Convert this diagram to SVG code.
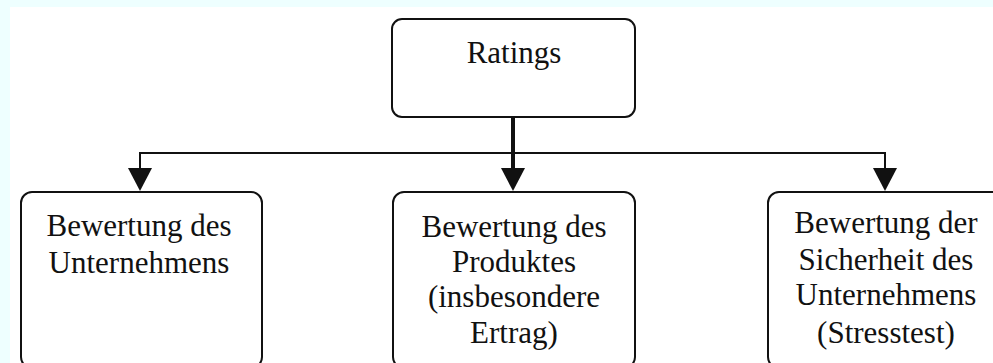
<svg xmlns="http://www.w3.org/2000/svg" width="993" height="363" viewBox="0 0 993 363">
  <style>
    .box { fill: #ffffff; stroke: #111111; stroke-width: 2; }
    .label { font-family: "Liberation Serif", "Times New Roman", serif; font-size: 31px; fill: #111111; text-anchor: middle; }
    .wire { fill: none; stroke: #111111; stroke-width: 2; }
    .trunk { fill: none; stroke: #111111; stroke-width: 4; }
    .head { fill: #111111; }
  </style>
  <defs>
    <path id="arrowhead" class="head" d="M -12 168 L 12 168 L 0 191 Z"/>
  </defs>

  <!-- page background with pale cyan margins -->
  <rect x="0" y="0" width="993" height="363" fill="#ffffff"/>
  <rect x="0" y="0" width="993" height="7" fill="#eeffff"/>
  <rect x="0" y="0" width="10" height="363" fill="#eeffff"/>

  <g id="connectors">
    <path class="trunk" d="M 513 117 L 513 170"/>
    <path class="wire" d="M 140 170 L 140 153 L 885 153 L 885 170"/>
    <use href="#arrowhead" transform="translate(140 0)"/>
    <use href="#arrowhead" transform="translate(513 0)"/>
    <use href="#arrowhead" transform="translate(885 0)"/>
  </g>

  <g id="ratings">
    <rect class="box" x="392" y="19" width="243" height="98" rx="10"/>
    <text class="label" x="514" y="63">Ratings</text>
  </g>

  <g id="unternehmen">
    <rect class="box" x="21" y="192" width="241" height="176" rx="11"/>
    <text class="label" x="139" y="236">Bewertung des</text>
    <text class="label" x="139" y="273">Unternehmens</text>
  </g>

  <g id="produkt">
    <rect class="box" x="393" y="192" width="242" height="176" rx="11"/>
    <text class="label" x="514" y="237">Bewertung des</text>
    <text class="label" x="514" y="272">Produktes</text>
    <text class="label" x="514" y="307">(insbesondere</text>
    <text class="label" x="514" y="343">Ertrag)</text>
  </g>

  <g id="sicherheit">
    <rect class="box" x="768" y="192" width="240" height="176" rx="11"/>
    <text class="label" x="886" y="233">Bewertung der</text>
    <text class="label" x="886" y="270">Sicherheit des</text>
    <text class="label" x="886" y="305">Unternehmens</text>
    <text class="label" x="886" y="343">(Stresstest)</text>
  </g>
</svg>
